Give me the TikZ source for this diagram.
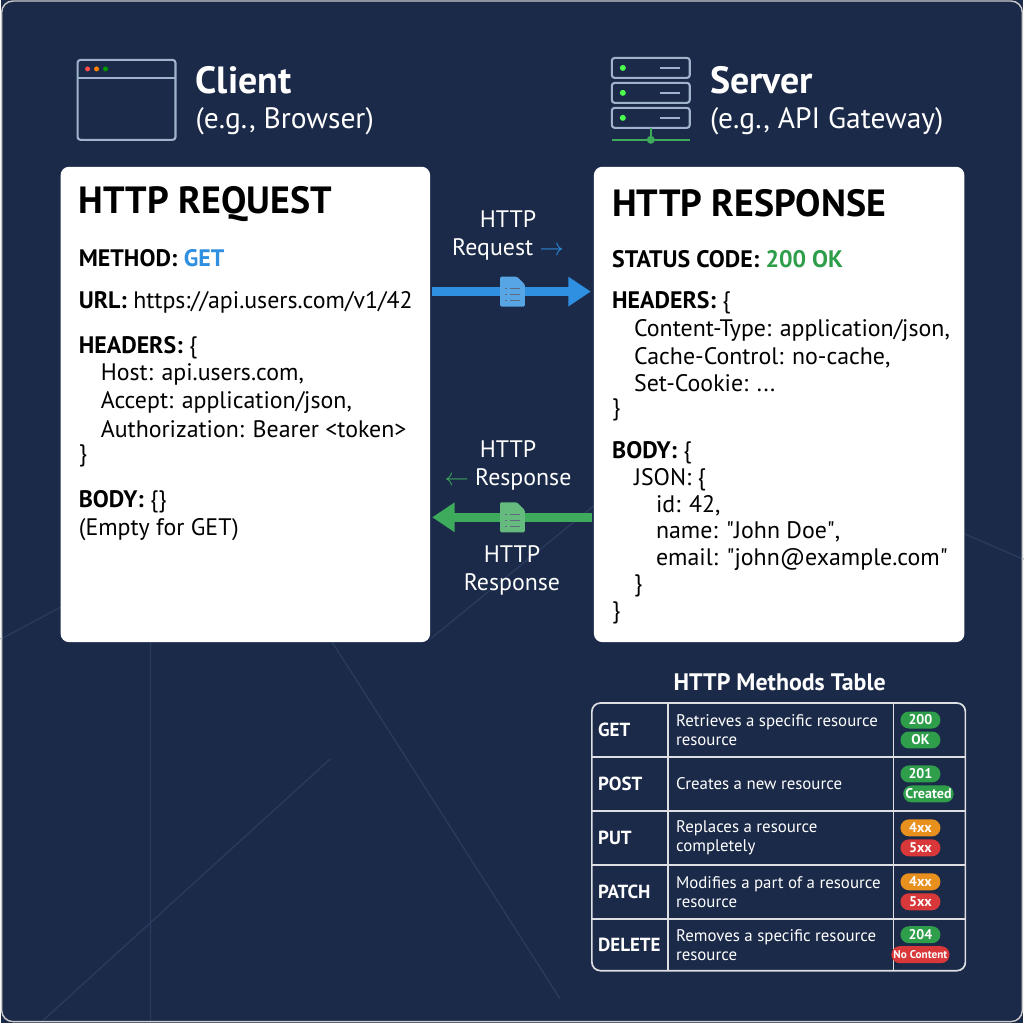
\documentclass[tikz,border=0pt]{standalone}
\usepackage{fontspec}
\setmainfont{PT Sans}
\newfontfamily\qfont{PT Sans}
\usetikzlibrary{positioning,arrows.meta}
\definecolor{navy}{HTML}{1B2A48}
\definecolor{navyline}{HTML}{2A3A5C}
\definecolor{reqblue}{HTML}{2F8FE0}
\definecolor{resgreen}{HTML}{3DAA5C}
\definecolor{okgreen}{HTML}{2E9E4A}
\definecolor{warnorange}{HTML}{E8901E}
\definecolor{errred}{HTML}{D8383A}
\definecolor{iconblue}{HTML}{9FB3CC}
\newcommand{\qq}{{\qfont"}}
\tikzset{
  card/.style={fill=white,rounded corners=6pt},
  line/.style={anchor=west,inner sep=0pt,font=\fontsize{17}{17}\selectfont},
  head/.style={anchor=west,inner sep=0pt,font=\fontsize{27}{27}\selectfont\bfseries},
  lbl/.style={inner sep=0pt,text=white,font=\fontsize{17}{20}\selectfont,align=center},
  cell/.style={anchor=west,inner sep=0pt,text=white,font=\fontsize{12}{13.5}\selectfont,align=left},
  badge/.style={rounded corners=6pt,text=white,inner sep=1.5pt,minimum width=40\unitpx,minimum height=17\unitpx,font=\fontsize{10}{10}\selectfont\bfseries},
}
\newlength{\unitpx}\setlength{\unitpx}{0.025cm}
\begin{document}
\begin{tikzpicture}[x=0.025cm,y=-0.025cm]
  \fill[navy] (0,0) rectangle (1024,1024);
  % faint background lines
  \draw[navyline,line width=1pt] (0,640) -- (150,560) -- (330,640) (150,560) -- (150,1024)
    (330,640) -- (560,1000) (40,1024) -- (330,760) (430,640) -- (700,420) -- (1024,560);
  \draw[gray!40,rounded corners=8pt,line width=1pt] (1,1) rectangle (1023,1023);

  % client icon
  \draw[iconblue,line width=1.5pt,rounded corners=2pt] (77,60) rectangle (175,140);
  \draw[iconblue,line width=1.5pt] (77,78) -- (175,78);
  \fill[red!70] (87,69) circle (2.5);
  \fill[orange] (96,69) circle (2.5);
  \fill[green!60!black] (105,69) circle (2.5);
  \node[head,text=white] (client) at (195,80) {Client};
  \node[line,text=white,font=\fontsize{21}{21}\selectfont] (clientsub) at (195,121) {(e.g., Browser)};

  % server icon
  \foreach \y in {58,83,108}{
    \draw[iconblue,line width=1.5pt,rounded corners=2pt] (612,\y) rectangle (690,\y+20);
    \fill[green!70] (623,\y+10) circle (3);
    \draw[iconblue,line width=1.5pt] (660,\y+10) -- (680,\y+10);
  }
  \draw[resgreen,line width=1.5pt] (651,128) -- (651,140) (612,140) -- (690,140);
  \fill[resgreen] (651,140) circle (4);
  \node[head,text=white] (server) at (710,80) {Server};
  \node[line,text=white,font=\fontsize{21}{21}\selectfont] (serversub) at (710,121) {(e.g., API Gateway)};

  % request card
  \fill[card] (60,167) rectangle (430,643);
  \node[head] (reqtitle) at (78,204) {HTTP REQUEST};
  \node[line] (method) at (78,258) {\textbf{METHOD:} \textcolor{reqblue}{\textbf{GET}}};
  \node[line] (url) at (78,303) {\textbf{URL:} https://api.users.com/v1/42};
  \node[line] (reqhdr) at (78,348) {\textbf{HEADERS:} \{};
  \node[line] (host) at (100,375) {Host: api.users.com,};
  \node[line] (accept) at (100,403) {Accept: application/json,};
  \node[line] (auth) at (100,430) {Authorization: Bearer <token>};
  \node[line] (reqhdrend) at (78,457) {\}};
  \node[line] (reqbody) at (78,502) {\textbf{BODY:} \{\}};
  \node[line] (empty) at (78,530) {(Empty for GET)};

  % response card
  \fill[card] (594,167) rectangle (965,643);
  \node[head] (restitle) at (612,204) {HTTP RESPONSE};
  \node[line] (status) at (612,259) {\textbf{STATUS CODE:} \textcolor{okgreen}{\textbf{200 OK}}};
  \node[line] (reshdr) at (612,303) {\textbf{HEADERS:} \{};
  \node[line] (ctype) at (634,331) {Content-Type: application/json,};
  \node[line] (cache) at (634,358) {Cache-Control: no-cache,};
  \node[line] (cookie) at (634,384) {Set-Cookie: ...};
  \node[line] (reshdrend) at (612,410) {\}};
  \node[line] (resbody) at (612,453) {\textbf{BODY:} \{};
  \node[line] (json) at (634,480) {JSON: \{};
  \node[line] (id) at (656,506) {id: 42,};
  \node[line] (name) at (656,533) {name: \qq John Doe\qq,};
  \node[line] (email) at (656,560) {email: \qq john@example.com\qq};
  \node[line] (jsonend) at (634,587) {\}};
  \node[line] (resbodyend) at (612,614) {\}};

  % connectors
  \coordinate (reqstart) at (432,292);
  \coordinate (reqend) at (591,292);
  \coordinate (resstart) at (592,518);
  \coordinate (resend) at (432,518);
  \draw[reqblue,line width=6pt,-{Triangle[length=16pt,width=20pt]}] (reqstart) -- (reqend);
  \draw[resgreen,line width=6pt,-{Triangle[length=16pt,width=20pt]}] (resstart) -- (resend);
  \foreach \n/\c/\y in {reqdoc/reqblue/292,resdoc/resgreen/518}{
    \fill[\c!80!white,rounded corners=1pt] (500,\y-15) -- (517,\y-15) -- (525,\y-7) -- (525,\y+15) -- (500,\y+15) -- cycle;
    \foreach \k in {-3,3,9}{
      \draw[navy!70,line width=1pt] (505,\y+\k) -- (507,\y+\k) (510,\y+\k) -- (520,\y+\k);
    }
    \coordinate (\n) at (512,\y);
  }
  \node[lbl] (reqlbl) at (508,236) {HTTP\\Request \textcolor{reqblue}{$\rightarrow$}};
  \node[lbl] (reslbl) at (508,466) {HTTP\\\textcolor{resgreen}{$\leftarrow$} Response};
  \node[lbl] (reslbl2) at (512,571) {HTTP\\Response};

  % methods table
  \node[text=white,inner sep=0pt,font=\fontsize{17}{17}\selectfont\bfseries] (tabtitle) at (780,683) {HTTP Methods Table};
  \draw[white!85!navy,line width=1.2pt,rounded corners=6pt] (592,704) rectangle (966,972);
  \foreach \y in {758,812,866,920}{
    \draw[white!85!navy,line width=1.2pt] (592,\y) -- (966,\y);
  }
  \draw[white!85!navy,line width=1.2pt] (668,704) -- (668,972) (894,704) -- (894,972);
  \foreach \m/\d/\y [count=\i] in {GET/{Retrieves a specific resource\\resource}/731,
      POST/{Creates a new resource}/785,
      PUT/{Replaces a resource\\completely}/839,
      PATCH/{Modifies a part of a resource\\resource}/893,
      DELETE/{Removes a specific resource\\resource}/946}{
    \node[cell,font=\fontsize{13.5}{14}\selectfont\bfseries] (m\i) at (598,\y) {\m};
    \node[cell] (d\i) at (676,\y) {\d};
  }
  \foreach \a/\ca/\b/\cb/\y [count=\i] in {200/okgreen/OK/okgreen/731,
      201/okgreen/Created/okgreen/785,
      4xx/warnorange/5xx/errred/839,
      4xx/warnorange/5xx/errred/893,
      204/okgreen/No Content/errred/946}{
    \node[badge,fill=\ca] (sa\i) at (921,\y-10) {\a};
    \node[badge,fill=\cb,font=\fontsize{\ifnum\i=5 8\else 10\fi}{10}\selectfont\bfseries] (sb\i) at (921+\ifnum\i=2 8\else 0\fi,\y+10) {\b};
  }
\end{tikzpicture}
\end{document}
